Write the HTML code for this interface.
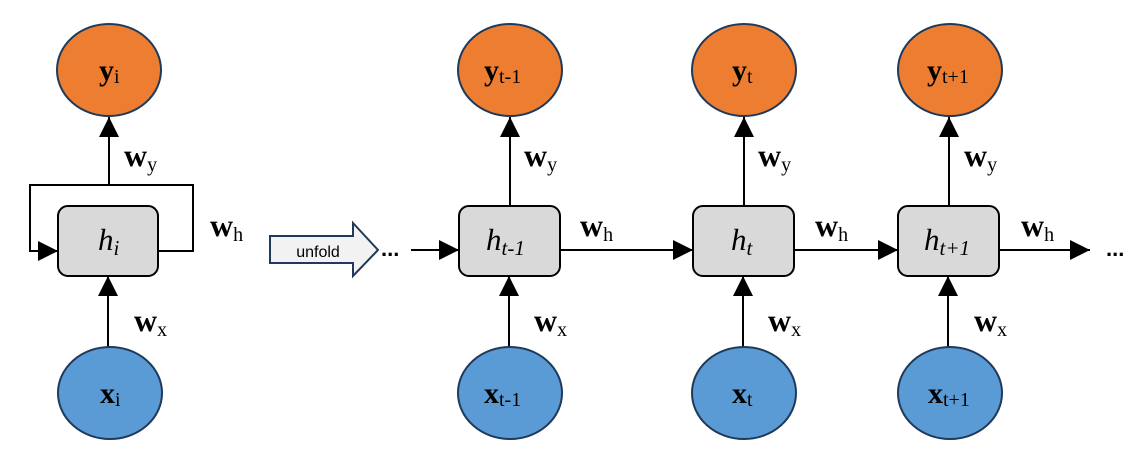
<!DOCTYPE html>
<html><head><meta charset="utf-8"><style>
html,body{margin:0;padding:0;background:#fff;}
svg{display:block;}
.s{font-family:"Liberation Serif",serif;}
</style></head><body>
<svg width="1144" height="471" viewBox="0 0 1144 471" xmlns="http://www.w3.org/2000/svg">
<defs>
<marker id="a" viewBox="0 0 10 10" refX="10" refY="5" markerWidth="20" markerHeight="20" markerUnits="userSpaceOnUse" orient="auto"><path d="M0,0 L10,5 L0,10 z" fill="#000"/></marker>
</defs>
<g stroke="#000" stroke-width="2" fill="none">
<line x1="109" y1="185" x2="109" y2="117" marker-end="url(#a)"/>
<line x1="108" y1="347" x2="108" y2="276" marker-end="url(#a)"/>
<polyline points="158,251 193,251 193,185 30,185 30,251 58,251" marker-end="url(#a)"/>
<line x1="411" y1="250" x2="459" y2="250" marker-end="url(#a)"/>
<line x1="560" y1="250" x2="693" y2="250" marker-end="url(#a)"/>
<line x1="794" y1="250" x2="898" y2="250" marker-end="url(#a)"/>
<line x1="999" y1="250" x2="1090" y2="250" marker-end="url(#a)"/>
<line x1="510" y1="206" x2="510" y2="117" marker-end="url(#a)"/>
<line x1="509" y1="347" x2="509" y2="276" marker-end="url(#a)"/>
<line x1="744" y1="206" x2="744" y2="117" marker-end="url(#a)"/>
<line x1="743" y1="347" x2="743" y2="276" marker-end="url(#a)"/>
<line x1="949" y1="206" x2="949" y2="117" marker-end="url(#a)"/>
<line x1="948" y1="347" x2="948" y2="276" marker-end="url(#a)"/>
</g>
<g stroke="#1f3a5a" stroke-width="2">
<ellipse cx="109" cy="70" rx="52" ry="46" fill="#ed7d31"/>
<ellipse cx="510" cy="70" rx="52" ry="46" fill="#ed7d31"/>
<ellipse cx="744" cy="70" rx="52" ry="46" fill="#ed7d31"/>
<ellipse cx="950" cy="70" rx="52" ry="46" fill="#ed7d31"/>
<ellipse cx="110" cy="393" rx="52" ry="46" fill="#5b9bd5"/>
<ellipse cx="510" cy="393" rx="52" ry="46" fill="#5b9bd5"/>
<ellipse cx="744" cy="393" rx="52" ry="46" fill="#5b9bd5"/>
<ellipse cx="950" cy="393" rx="52" ry="46" fill="#5b9bd5"/>
</g>
<g stroke="#000" stroke-width="2" fill="#d9d9d9">
<rect x="58" y="206" width="100" height="70" rx="10"/>
<rect x="459" y="206" width="101" height="70" rx="10"/>
<rect x="693" y="206" width="101" height="70" rx="10"/>
<rect x="898" y="206" width="101" height="70" rx="10"/>
</g>
<polygon points="270,236 353,236 353,223 378,250 353,276 353,263 270,263" fill="#f2f2f2" stroke="#1f3a5a" stroke-width="2"/>
<text x="318" y="257" font-family="Liberation Sans,sans-serif" font-size="16" text-anchor="middle">unfold</text>
<g class="s" font-size="30" font-weight="bold">
<text x="99" y="80">y<tspan font-size="20" font-weight="normal" dy="3">i</tspan></text>
<text x="100" y="403">x<tspan font-size="20" font-weight="normal" dy="3">i</tspan></text>
<text x="484" y="80">y<tspan font-size="20" font-weight="normal" dy="3">t-1</tspan></text>
<text x="484" y="403">x<tspan font-size="20" font-weight="normal" dy="3">t-1</tspan></text>
<text x="732" y="80">y<tspan font-size="20" font-weight="normal" dy="3">t</tspan></text>
<text x="732" y="403">x<tspan font-size="20" font-weight="normal" dy="3">t</tspan></text>
<text x="927" y="80">y<tspan font-size="20" font-weight="normal" dy="3">t+1</tspan></text>
<text x="928" y="403">x<tspan font-size="20" font-weight="normal" dy="3">t+1</tspan></text>
</g>
<g class="s" font-size="31" font-style="italic">
<text x="98" y="250">h<tspan font-size="21" dy="5">i</tspan></text>
<text x="486" y="250">h<tspan font-size="21" dy="5">t-1</tspan></text>
<text x="731" y="250">h<tspan font-size="21" dy="5">t</tspan></text>
<text x="924" y="250">h<tspan font-size="21" dy="5">t+1</tspan></text>
</g>
<g class="s" font-size="32" font-weight="bold">
<text x="124" y="166">w<tspan font-size="20" font-weight="normal" dy="5">y</tspan></text>
<text x="134" y="331">w<tspan font-size="20" font-weight="normal" dy="5">x</tspan></text>
<text x="210" y="236">w<tspan font-size="20" font-weight="normal" dy="5">h</tspan></text>
<text x="524" y="166">w<tspan font-size="20" font-weight="normal" dy="5">y</tspan></text>
<text x="534" y="331">w<tspan font-size="20" font-weight="normal" dy="5">x</tspan></text>
<text x="580" y="236">w<tspan font-size="20" font-weight="normal" dy="5">h</tspan></text>
<text x="758" y="166">w<tspan font-size="20" font-weight="normal" dy="5">y</tspan></text>
<text x="768" y="331">w<tspan font-size="20" font-weight="normal" dy="5">x</tspan></text>
<text x="815" y="236">w<tspan font-size="20" font-weight="normal" dy="5">h</tspan></text>
<text x="964" y="166">w<tspan font-size="20" font-weight="normal" dy="5">y</tspan></text>
<text x="974" y="331">w<tspan font-size="20" font-weight="normal" dy="5">x</tspan></text>
<text x="1021" y="236">w<tspan font-size="20" font-weight="normal" dy="5">h</tspan></text>
</g>
<text x="381" y="256" font-family="Liberation Sans,sans-serif" font-size="22" font-weight="bold">...</text>
<text x="1106" y="256" font-family="Liberation Sans,sans-serif" font-size="22" font-weight="bold">...</text>
</svg>
</body></html>
